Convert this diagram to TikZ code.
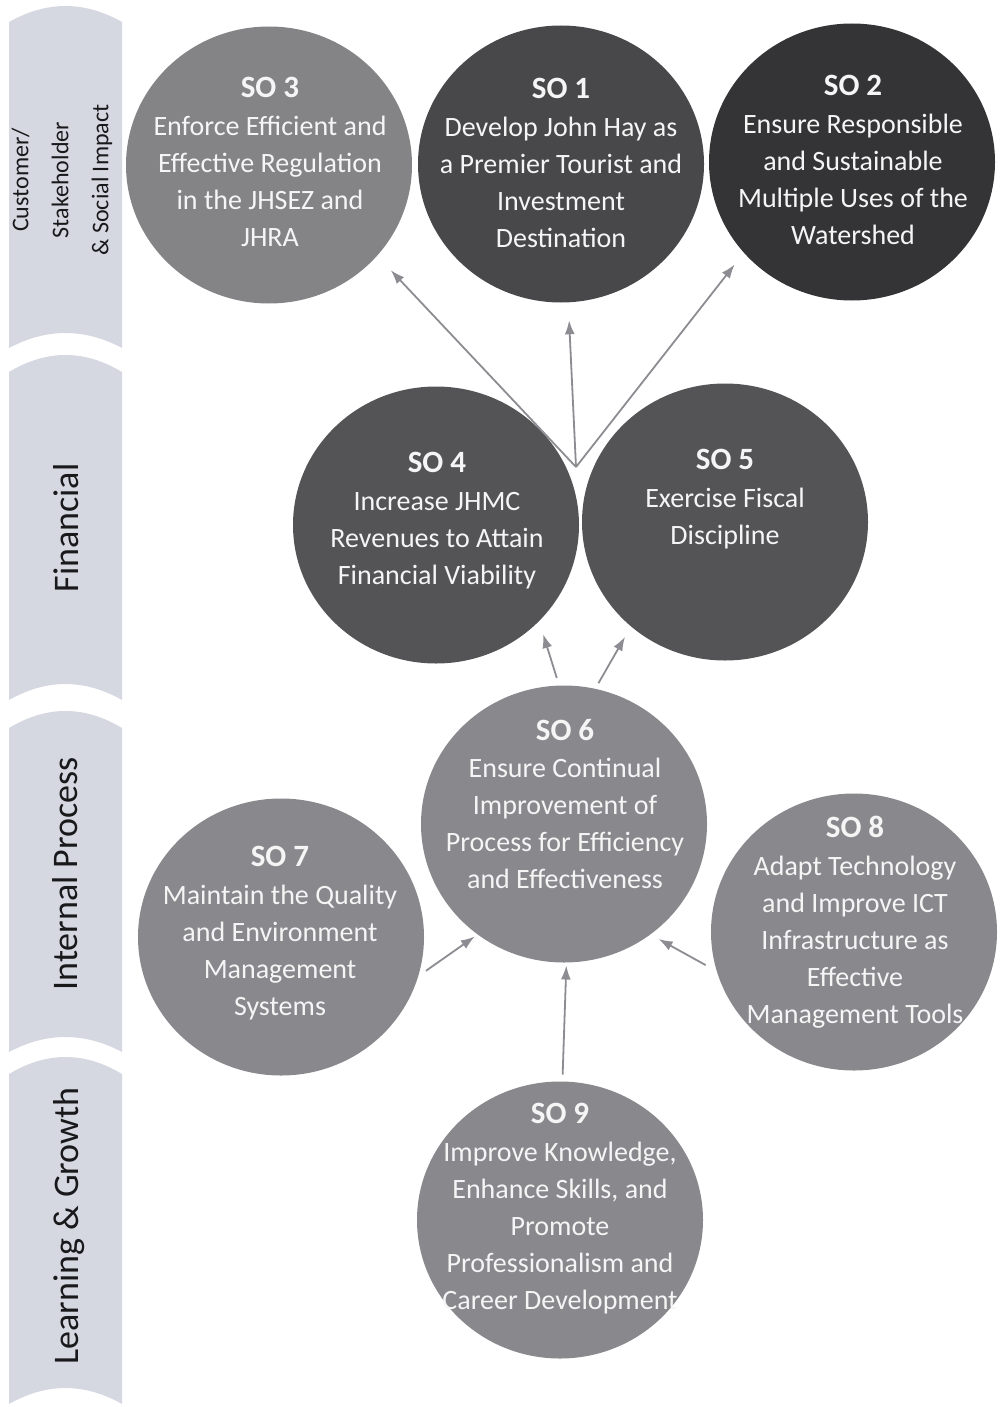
\documentclass[tikz,border=0pt]{standalone}
\usepackage{fontspec}
\setmainfont{Carlito}
\usetikzlibrary{arrows.meta,shapes.geometric}
\definecolor{bandc}{RGB}{213,216,225}
\definecolor{lanetext}{RGB}{25,25,28}
\definecolor{cA}{RGB}{132,132,135}
\definecolor{cB}{RGB}{72,72,74}
\definecolor{cC}{RGB}{52,52,54}
\definecolor{cD}{RGB}{84,84,87}
\definecolor{cE}{RGB}{137,137,141}
\definecolor{arrc}{RGB}{140,140,146}
\definecolor{wtxt}{RGB}{245,245,245}
\newcommand\sotitle[1]{{\fontsize{31}{37}\selectfont\bfseries #1}\\[0.5pt]}
\begin{document}
\begin{tikzpicture}[x=1pt,y=-1pt,
  band/.style={fill=bandc},
  obj/.style={ellipse, minimum width=286pt, minimum height=277pt, inner sep=0pt, outer sep=0pt},
  otxt/.style={anchor=north, align=center, inner sep=0pt, text=wtxt, font=\fontsize{28}{37}\selectfont},
  arr/.style={draw=arrc, line width=1.8pt, -{Latex[length=14pt,width=10pt]}},
  lane/.style={rotate=90, text=lanetext, inner sep=0pt, font=\fontsize{36}{40}\selectfont},
]
\useasboundingbox (0,0) rectangle (1002,1407);
% perspective bands
\fill[band] (9,22) .. controls (46.7,0.7) and (84.3,0.7) .. (122,22) -- (122,348) .. controls (84.3,328) and (46.7,328) .. (9,348) -- cycle;
\fill[band] (9,372) .. controls (46.7,349.3) and (84.3,349.3) .. (122,372) -- (122,700) .. controls (84.3,678.7) and (46.7,678.7) .. (9,700) -- cycle;
\fill[band] (9,728) .. controls (46.7,705.3) and (84.3,705.3) .. (122,728) -- (122,1052) .. controls (84.3,1032) and (46.7,1032) .. (9,1052) -- cycle;
\fill[band] (9,1074) .. controls (46.7,1051.3) and (84.3,1051.3) .. (122,1074) -- (122,1404) .. controls (84.3,1382.7) and (46.7,1382.7) .. (9,1404) -- cycle;
\node[lane, align=center, font=\fontsize{24}{40}\selectfont] (l1) at (62,180) {Customer/\\Stakeholder\\\& Social Impact};
\node[lane, anchor=base] (l2) at (78,528) {Financial};
\node[lane, anchor=base] (l3) at (77,874) {Internal Process};
\node[lane, anchor=base] (l4) at (78,1226) {Learning \& Growth};
% objectives
\node[obj, fill=cA] (so3) at (269,165) {};
\node[obj, fill=cB] (so1) at (561,164) {};
\node[obj, fill=cC] (so2) at (852,162) {};
\node[obj, fill=cD] (so4) at (436,525) {};
\node[obj, fill=cD] (so5) at (725,522) {};
\node[obj, fill=cE] (so6) at (564,824) {};
\node[obj, fill=cE] (so7) at (281,937) {};
\node[obj, fill=cE] (so8) at (854,932) {};
\node[obj, fill=cE] (so9) at (560,1220) {};
\node[otxt] (so3t) at (270,77) {\sotitle{SO 3}Enforce Efficient and\\Effective Regulation\\in the JHSEZ and\\JHRA};
\node[otxt] (so1t) at (561,78) {\sotitle{SO 1}Develop John Hay as\\a Premier Tourist and\\Investment\\Destination};
\node[otxt] (so2t) at (853,75) {\sotitle{SO 2}Ensure Responsible\\and Sustainable\\Multiple Uses of the\\Watershed};
\node[otxt] (so4t) at (437,452) {\sotitle{SO 4}Increase JHMC\\Revenues to Attain\\Financial Viability};
\node[otxt] (so5t) at (725,449) {\sotitle{SO 5}Exercise Fiscal\\Discipline};
\node[otxt] (so6t) at (565,719) {\sotitle{SO 6}Ensure Continual\\Improvement of\\Process for Efficiency\\and Effectiveness};
\node[otxt] (so7t) at (280,846) {\sotitle{SO 7}Maintain the Quality\\and Environment\\Management\\Systems};
\node[otxt] (so8t) at (855,816) {\sotitle{SO 8}Adapt Technology\\and Improve ICT\\Infrastructure as\\Effective\\Management Tools};
\node[otxt] (so9t) at (560,1103) {\sotitle{SO 9}Improve Knowledge,\\Enhance Skills, and\\Promote\\Professionalism and\\Career Development};
% connectors
\coordinate (fin) at (576,467);
\draw[arr, shorten >=20pt] (fin) -- (so3.320);
\draw[arr, shorten >=18pt] (fin) -- (so1.273);
\draw[arr, shorten >=15pt] (fin) -- (so2.220);
\draw[arr, shorten <=8pt, shorten >=13.6pt] (so6.92) -- (so4.317);
\draw[arr, shorten <=6.5pt, shorten >=12pt] (so6.77) -- (so5.228);
\draw[arr, shorten <=9.6pt, shorten >=3.6pt] (so7.344) -- (so6.232);
\draw[arr, shorten <=7pt, shorten >=3pt] (so9.89) -- (so6.271);
\draw[arr, shorten <=12.8pt, shorten >=9.5pt] (so8.196) -- (so6.308.5);
\end{tikzpicture}
\end{document}
